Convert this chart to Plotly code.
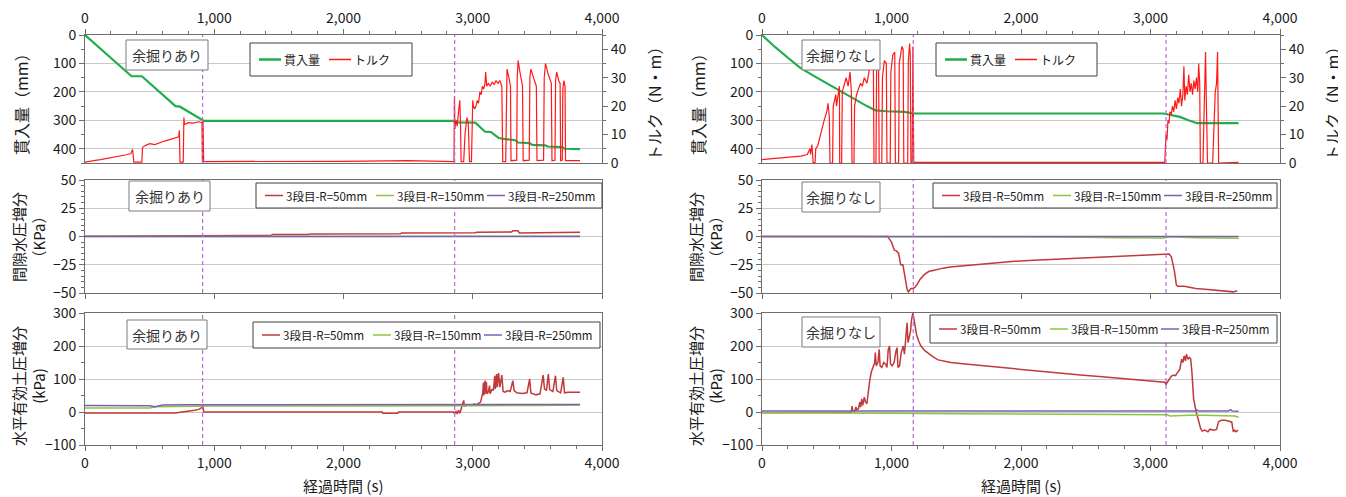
import plotly.graph_objects as go

# ================= DATA =================
# ---------- Left column : 余掘りあり ----------
L_pen = [(0,0),(360,145),(440,145),(700,250),(735,252),(905,300),(920,302),(2870,302),(2880,307),
         (3020,308),(3080,335),(3095,340),(3140,341),(3200,362),(3240,365),(3330,370),(3350,378),
         (3440,380),(3460,386),(3560,388),(3580,392),(3690,394),(3710,400),(3830,401)]
L_torque = [(0,0.3),(40,0.5),(80,0.9),(120,1.2),(160,1.5),(200,1.8),(240,2.2),(280,2.6),(320,2.9),
            (355,3.3),(368,4.8),(372,3.0),(378,0.3),(440,0.3),(445,5.5),(470,6.2),(500,6.8),(540,6.5),
            (580,7.2),(620,7.8),(660,8.3),(700,8.8),(725,9.2),(730,11.5),(735,0.3),(760,0.3),(765,16),
            (770,13.5),(800,14.2),(840,14.0),(880,14.5),(905,14.2),(908,0.3),(913,15),(918,0.5),
            (1000,0.5),(1500,0.6),(2000,0.6),(2500,0.8),(2855,0.5),(2858,23.5),(2862,12),(2870,15),
            (2880,13),(2890,18),(2900,22),(2905,14),(2910,0.5),(2930,0.5),(2940,10),(2955,16),(2965,14),
            (2975,0.5),(2990,0.5),(3000,22),(3005,20),(3015,19),(3025,20),(3035,22),(3045,21),(3055,25),
            (3065,24),(3075,27),(3085,26),(3095,28),(3100,32),(3108,27),(3120,28),(3135,27),(3150,28.5),
            (3165,27.5),(3180,29),(3195,28),(3210,29),(3225,27),(3232,0.5),(3255,0.5),(3260,30),(3265,33),
            (3280,30),(3292,27),(3296,0.8),(3340,1),(3344,30),(3351,36),(3365,32),(3385,27),(3390,0.8),
            (3437,1),(3442,30),(3450,33),(3470,30),(3492,27),(3497,0.8),(3548,1),(3553,30),(3563,35),
            (3585,31),(3608,28),(3613,0.8),(3636,1),(3641,29),(3649,32),(3665,29),(3676,28),(3680,0.8),
            (3693,1),(3697,26),(3705,29),(3714,27),(3718,0.8),(3830,0.8)]
L_pore_50 = [(0,0.2),(1250,0.3),(1260,0.9),(1440,1),(1450,1.7),(1730,1.8),(1740,2.3),(2440,2.4),
             (2450,3.2),(3020,3.3),(3030,3.8),(3300,4),(3310,5),(3350,5),(3360,3.2),(3500,3.4),
             (3600,3.7),(3830,3.8)]
L_pore_150 = [(0,0),(1000,0.1),(2000,0.2),(3000,0.3),(3830,0.2)]
L_pore_250 = [(0,0.1),(900,0.2),(2000,0.1),(3830,0.1)]
L_earth_50 = [(0,-3),(300,-3),(500,-4),(700,-3),(750,0),(800,2),(850,5),(880,8),(900,12),(912,20),
              (918,0),(1500,0),(2300,0),(2305,-4),(2420,-4),(2425,0),(2850,0),(2860,-5),(2870,3),
              (2880,-6),(2890,5),(2900,-4),(2910,10),(2920,18),(2930,35),(2935,18),(2950,20),(2970,22),
              (2990,20),(3010,24),(3030,22),(3050,28),(3060,30),(3070,45),(3078,60),(3082,88),(3086,50),
              (3090,92),(3094,55),(3098,95),(3102,58),(3106,90),(3110,55),(3120,60),(3130,80),(3135,55),
              (3150,70),(3160,65),(3170,110),(3175,70),(3185,115),(3190,75),(3200,118),(3210,75),
              (3225,112),(3235,62),(3250,60),(3270,65),(3290,62),(3310,95),(3320,65),(3340,58),(3380,56),
              (3420,58),(3440,100),(3450,58),(3490,52),(3520,55),(3545,112),(3555,70),(3570,65),
              (3585,115),(3595,68),(3620,62),(3640,110),(3650,65),(3680,58),(3700,105),(3710,58),
              (3740,60),(3830,60)]
L_earth_150 = [(0,12),(300,11),(500,12),(550,16),(700,17),(1000,18),(2000,18.5),(2800,19),(2900,17),
               (3000,19),(3500,20),(3830,21)]
L_earth_250 = [(0,20),(400,19),(500,19),(540,16),(600,21),(800,22),(2000,22),(3000,22),(3830,23)]
L_marks = [910, 2860]

# ---------- Right column : 余掘りなし ----------
R_pen = [(0,0),(100,42),(200,80),(293,115),(393,142),(480,165),(560,186),(693,219),(810,250),
         (877,265),(960,268),(1100,270),(1170,276),(3100,276),(3227,288),(3293,300),(3360,310),
         (3680,310)]
R_torque = [(0,1.2),(50,1.5),(100,1.6),(150,1.8),(200,2),(250,2.2),(300,2.4),(350,3),(370,5),(375,3),
            (385,6.5),(390,3.5),(395,0),(410,0.2),(415,5),(430,6),(445,9),(460,11),(470,13),(480,15),
            (500,18),(510,21),(520,16),(525,0),(545,0),(550,20),(560,22),(570,24),(575,20),(580,22),
            (590,25),(598,27),(600,0),(615,0),(620,25),(635,28),(650,30),(665,27),(680,32),(690,25),
            (695,0),(710,0),(715,20),(730,24),(745,26),(760,28),(775,27),(790,30),(810,28),(830,33),
            (850,34),(860,35),(865,0),(880,0),(885,33),(900,34),(905,0),(925,0),(930,30),(945,36),
            (960,35),(965,0),(990,0),(995,32),(1010,38),(1025,39),(1030,0),(1055,0),(1060,35),
            (1080,41),(1090,40),(1095,0),(1125,0),(1130,36),(1140,42),(1145,38),(1150,0),(1160,0),
            (1165,41),(1172,0.2),(3110,0.2),(3115,5),(3120,10),(3127,8),(3135,15),(3143,14),(3150,18),
            (3160,17),(3170,20),(3180,18),(3190,22),(3200,19),(3210,23),(3220,21),(3230,26),(3240,20),
            (3250,24),(3258,34),(3265,22),(3275,27),(3285,24),(3295,31),(3305,25),(3315,28),(3325,24),
            (3335,29),(3345,26),(3355,30),(3365,25),(3372,35),(3380,28),(3385,0),(3405,0),(3415,20),
            (3425,39),(3432,20),(3440,0),(3480,0),(3490,10),(3500,25),(3510,28),(3518,39),(3526,0),
            (3680,0.2)]
R_pore_50 = [(0,0),(500,0),(970,0),(988,-3),(1000,-5),(1021,-12),(1040,-13),(1055,-15),(1065,-22),
             (1071,-25),(1088,-25),(1098,-32),(1104,-38),(1115,-45),(1121,-47),(1130,-49),(1138,-48),
             (1150,-46),(1165,-46),(1180,-45),(1200,-42),(1220,-38),(1250,-34),(1287,-31),(1320,-30),
             (1353,-29),(1400,-28),(1453,-27),(1550,-26),(1620,-25),(1800,-23),(1950,-22),(2100,-21),
             (2282,-20),(2450,-19),(2614,-18),(2800,-17),(2945,-16.5),(3100,-15.5),(3144,-15.5),
             (3161,-18),(3170,-22),(3184,-30),(3200,-43),(3211,-44),(3260,-44),(3350,-46),(3443,-47),
             (3530,-48),(3609,-48.5),(3640,-49),(3670,-48)]
R_pore_150 = [(0,0),(1000,0),(1280,-0.5),(2500,-0.6),(2750,-1.2),(3100,-1.3),(3150,-0.3),(3330,-0.4),
              (3350,-1),(3670,-1.5),(3680,-2)]
R_pore_250 = [(0,0),(620,0),(640,0.5),(1170,0.5),(1180,0),(3150,0),(3160,0.6),(3420,0.6),(3430,0),
              (3680,0)]
R_earth_50 = [(0,-2),(400,-2),(690,-1),(695,18),(700,5),(715,2),(725,15),(735,5),(745,10),(755,30),
              (762,15),(770,40),(778,20),(790,45),(800,30),(810,25),(820,60),(830,90),(843,120),
              (860,140),(870,150),(875,180),(882,140),(895,150),(905,190),(912,140),(925,135),(940,150),
              (955,145),(965,135),(975,190),(985,200),(993,145),(1005,140),(1020,150),(1035,185),
              (1043,195),(1050,135),(1062,140),(1075,180),(1090,200),(1100,175),(1110,215),(1120,270),
              (1128,210),(1140,240),(1147,245),(1155,280),(1165,300),(1172,285),(1180,260),(1193,235),
              (1210,215),(1227,200),(1260,185),(1293,175),(1330,165),(1360,158),(1410,153),(1460,150),
              (1550,146),(1627,143),(1800,137),(1960,130),(2130,124),(2293,118),(2460,112),(2627,107),
              (2800,101),(2960,95),(3060,92),(3110,90),(3120,84),(3127,88),(3143,100),(3160,108),
              (3177,112),(3193,110),(3210,120),(3227,130),(3240,160),(3250,150),(3260,170),(3270,155),
              (3277,175),(3290,160),(3300,165),(3310,162),(3320,120),(3333,40),(3353,0),(3367,-20),
              (3387,-50),(3400,-58),(3420,-55),(3443,-60),(3460,-52),(3490,-55),(3510,-53),(3525,-30),
              (3545,-25),(3577,-25),(3600,-28),(3627,-30),(3640,-60),(3650,-55),(3660,-60),(3677,-55)]
R_earth_150 = [(0,-2),(300,-2),(500,-3),(700,-3),(1000,-4),(1500,-5),(2000,-6),(2300,-7),(2500,-8),
               (2800,-9),(3100,-10),(3130,-8),(3150,-12),(3200,-11),(3300,-10),(3400,-10),(3550,-11),
               (3650,-12),(3680,-16)]
R_earth_250 = [(0,3),(1000,3),(2000,3),(3000,3),(3350,3),(3360,6),(3370,3),(3600,3),(3620,7),(3630,3),
               (3680,2)]
R_marks = [1168, 3120]

LABEL_L = "余掘りあり"
LABEL_R = "余掘りなし"
NAME_PEN = "貫入量"
NAME_TQ = "トルク"
NAMES_R = ["3段目-R=50mm", "3段目-R=150mm", "3段目-R=250mm"]

# ================= STYLE =================
# the page body has an 8 px default margin, so the figure is made 8 px smaller
# and every screen position below is shifted by that offset
OFF = 8
W, H = 1346 - OFF, 497 - OFF
FONT = "Noto Sans CJK JP"
LEGFONT = "Liberation Sans Narrow, Noto Sans CJK JP"
C_PEN = "#21ad4b"
C_TQ = "#ff1a1a"
C_R = ["#c0393b", "#8cc63f", "#7b5fb5"]
C_MARK = "#b66ad6"
AX = "#6e6e6e"
GRID = "#c9c9c9"
TXT = "#1a1a1a"

def px_x(p): return (p - OFF) / W
def px_y(p): return 1 - (p - OFF) / H

XL = [px_x(85), px_x(602)]
XR = [px_x(762), px_x(1280)]
Y_TOP = [px_y(163), px_y(35)]
Y_MID = [px_y(293), px_y(180)]
Y_BOT = [px_y(445), px_y(313)]

def xy(pairs):
    return [p[0] for p in pairs], [p[1] for p in pairs]

fig = go.Figure()

cols = [
    dict(pen=L_pen, tq=L_torque, pore=[L_pore_50, L_pore_150, L_pore_250],
         earth=[L_earth_50, L_earth_150, L_earth_250], marks=L_marks, label=LABEL_L,
         dom=XL, ax=[1, 2, 3], ov=7, x0=85, x1=602,
         boxes=[(126, 40, 208, 70), (129, 181, 210, 211), (127, 320, 207, 349)],
         legs=[(250, 43, 412, 76), (256, 183, 602, 208), (253, 322, 600, 348)]),
    dict(pen=R_pen, tq=R_torque, pore=[R_pore_50, R_pore_150, R_pore_250],
         earth=[R_earth_50, R_earth_150, R_earth_250], marks=R_marks, label=LABEL_R,
         dom=XR, ax=[4, 5, 6], ov=8, x0=762, x1=1280,
         boxes=[(802, 40, 880, 70), (802, 182, 880, 212), (802, 317, 880, 347)],
         legs=[(936, 43, 1097, 76), (933, 183, 1277, 208), (930, 315, 1277, 343)]),
]

def sfx(i): return "" if i == 1 else str(i)

layout = {}
shapes = []
annotations = []

def legend_box(box, entries, seg, text_w, fsize):
    x0, y0, x1, y1 = box
    shapes.append(dict(type="rect", xref="paper", yref="paper", x0=px_x(x0), x1=px_x(x1),
                       y0=px_y(y1), y1=px_y(y0), line=dict(color="#404040", width=1),
                       fillcolor="white", layer="above"))
    yc = (y0 + y1) / 2
    cx = x0 + 9
    for name, color, width in entries:
        shapes.append(dict(type="line", xref="paper", yref="paper", x0=px_x(cx), x1=px_x(cx + seg),
                           y0=px_y(yc), y1=px_y(yc), line=dict(color=color, width=width), layer="above"))
        annotations.append(dict(text=name, xref="paper", yref="paper", x=px_x(cx + seg + 1), y=px_y(yc),
                                xanchor="left", yanchor="middle", showarrow=False,
                                font=dict(family=fsize[1], size=fsize[0], color=TXT)))
        cx += seg + 2 + text_w

for c in cols:
    a_top, a_mid, a_bot = c["ax"]
    ov = c["ov"]
    t, v = xy(c["pen"])
    fig.add_trace(go.Scatter(x=t, y=v, mode="lines", name=NAME_PEN, line=dict(color=C_PEN, width=2.2),
                             xaxis="x" + sfx(a_top), yaxis="y" + sfx(a_top), showlegend=False))
    t, v = xy(c["tq"])
    fig.add_trace(go.Scatter(x=t, y=v, mode="lines", name=NAME_TQ, line=dict(color=C_TQ, width=1.2),
                             xaxis="x" + sfx(a_top), yaxis="y" + str(ov), showlegend=False))
    for k in range(3):
        t, v = xy(c["pore"][k])
        fig.add_trace(go.Scatter(x=t, y=v, mode="lines", name=NAMES_R[k],
                                 line=dict(color=C_R[k], width=1.5),
                                 xaxis="x" + sfx(a_mid), yaxis="y" + sfx(a_mid), showlegend=False))
    for k in range(3):
        t, v = xy(c["earth"][k])
        fig.add_trace(go.Scatter(x=t, y=v, mode="lines", name=NAMES_R[k],
                                 line=dict(color=C_R[k], width=1.5),
                                 xaxis="x" + sfx(a_bot), yaxis="y" + sfx(a_bot), showlegend=False))

    common_x = dict(domain=c["dom"], range=[0, 4000], dtick=1000, tickformat=",d", automargin=False,
                    showline=True, linecolor=AX, mirror=True, showgrid=False, zeroline=False,
                    ticks="outside", ticklen=5, tickcolor=AX,
                    minor=dict(dtick=200, ticks="outside", ticklen=3, tickcolor=AX),
                    tickfont=dict(family=FONT, size=14, color=TXT))
    layout["xaxis" + sfx(a_top)] = dict(common_x, anchor="y" + sfx(a_top), side="top")
    layout["xaxis" + sfx(a_mid)] = dict(common_x, anchor="y" + sfx(a_mid), showticklabels=False,
                                        matches="x" + sfx(a_top), minor=dict(ticks=""))
    layout["xaxis" + sfx(a_bot)] = dict(common_x, anchor="y" + sfx(a_bot), matches="x" + sfx(a_top))

    common_y = dict(showline=True, linecolor=AX, mirror=True, showgrid=True, gridcolor=GRID,
                    gridwidth=1, zeroline=False, ticks="outside", ticklen=5, tickcolor=AX,
                    automargin=False, tickfont=dict(family=FONT, size=14, color=TXT))
    layout["yaxis" + sfx(a_top)] = dict(common_y, domain=Y_TOP, anchor="x" + sfx(a_top),
                                        range=[450, 0], tickvals=[0, 100, 200, 300, 400],
                                        minor=dict(dtick=50, ticks="outside", ticklen=3, tickcolor=AX))
    layout["yaxis" + str(ov)] = dict(overlaying="y" + sfx(a_top), anchor="x" + sfx(a_top), side="right",
                                     range=[0, 45], tickvals=[0, 10, 20, 30, 40], showgrid=False,
                                     zeroline=False, showline=True, linecolor=AX, ticks="outside",
                                     ticklen=5, tickcolor=AX, automargin=False,
                                     minor=dict(dtick=5, ticks="outside", ticklen=3, tickcolor=AX),
                                     tickfont=dict(family=FONT, size=14, color=TXT))
    layout["yaxis" + sfx(a_mid)] = dict(common_y, domain=Y_MID, anchor="x" + sfx(a_mid),
                                        range=[-50, 50], dtick=25,
                                        minor=dict(dtick=5, ticks="outside", ticklen=3, tickcolor=AX))
    layout["yaxis" + sfx(a_bot)] = dict(common_y, domain=Y_BOT, anchor="x" + sfx(a_bot),
                                        range=[-100, 300], dtick=100,
                                        minor=dict(dtick=50, ticks="outside", ticklen=3, tickcolor=AX))

    for a in (a_top, a_mid, a_bot):
        for m in c["marks"]:
            shapes.append(dict(type="line", xref="x" + sfx(a), yref="y" + sfx(a) + " domain",
                               x0=m, x1=m, y0=0, y1=1,
                               line=dict(color=C_MARK, width=1.2, dash="4px,3px")))

    # label boxes
    for (bx0, by0, bx1, by1) in c["boxes"]:
        shapes.append(dict(type="rect", xref="paper", yref="paper", x0=px_x(bx0), x1=px_x(bx1),
                           y0=px_y(by1), y1=px_y(by0), line=dict(color="#7a7a7a", width=1),
                           fillcolor="white", layer="above"))
        annotations.append(dict(text=c["label"], xref="paper", yref="paper",
                                x=px_x((bx0 + bx1) / 2), y=px_y((by0 + by1) / 2), xanchor="center",
                                yanchor="middle", showarrow=False,
                                font=dict(family=FONT, size=14, color="#333")))

    # legends (drawn boxes)
    legend_box(c["legs"][0], [(NAME_PEN, C_PEN, 2.5), (NAME_TQ, C_TQ, 1.5)], 22, 46, (12, FONT))
    legend_box(c["legs"][1], [(NAMES_R[k], C_R[k], 1.5) for k in range(3)], 18, 91, (11.5, LEGFONT))
    legend_box(c["legs"][2], [(NAMES_R[k], C_R[k], 1.5) for k in range(3)], 18, 91, (11.5, LEGFONT))

    # axis titles
    x0 = c["x0"]
    annotations.append(dict(text="貫入量（mm）", xref="paper", yref="paper", x=px_x(x0 - 64), y=px_y(100),
                            xanchor="center", yanchor="middle", textangle=-90, showarrow=False,
                            font=dict(family=FONT, size=16, color=TXT)))
    annotations.append(dict(text="間隙水圧増分<br>（KPa）", xref="paper", yref="paper", x=px_x(x0 - 57),
                            y=px_y(237), xanchor="center", yanchor="middle", textangle=-90,
                            showarrow=False, font=dict(family=FONT, size=15, color=TXT)))
    annotations.append(dict(text="水平有効土圧増分<br>(kPa)", xref="paper", yref="paper", x=px_x(x0 - 57),
                            y=px_y(386), xanchor="center", yanchor="middle", textangle=-90,
                            showarrow=False, font=dict(family=FONT, size=15, color=TXT)))
    annotations.append(dict(text="トルク（N・m）", xref="paper", yref="paper",
                            x=px_x(c["x1"] + 52), y=px_y(100), xanchor="center", yanchor="middle",
                            textangle=-90, showarrow=False, font=dict(family=FONT, size=16, color=TXT)))
    annotations.append(dict(text="経過時間 (s)", xref="paper", yref="paper",
                            x=px_x((c["x0"] + c["x1"]) / 2), y=px_y(485), xanchor="center",
                            yanchor="middle", showarrow=False, font=dict(family=FONT, size=15, color=TXT)))

fig.update_layout(**layout)
fig.update_layout(width=W, height=H, autosize=False, margin=dict(l=0, r=0, t=0, b=0),
                  paper_bgcolor="white", plot_bgcolor="white", shapes=shapes, annotations=annotations,
                  font=dict(family=FONT), showlegend=False)
fig.write_html("out.html")
